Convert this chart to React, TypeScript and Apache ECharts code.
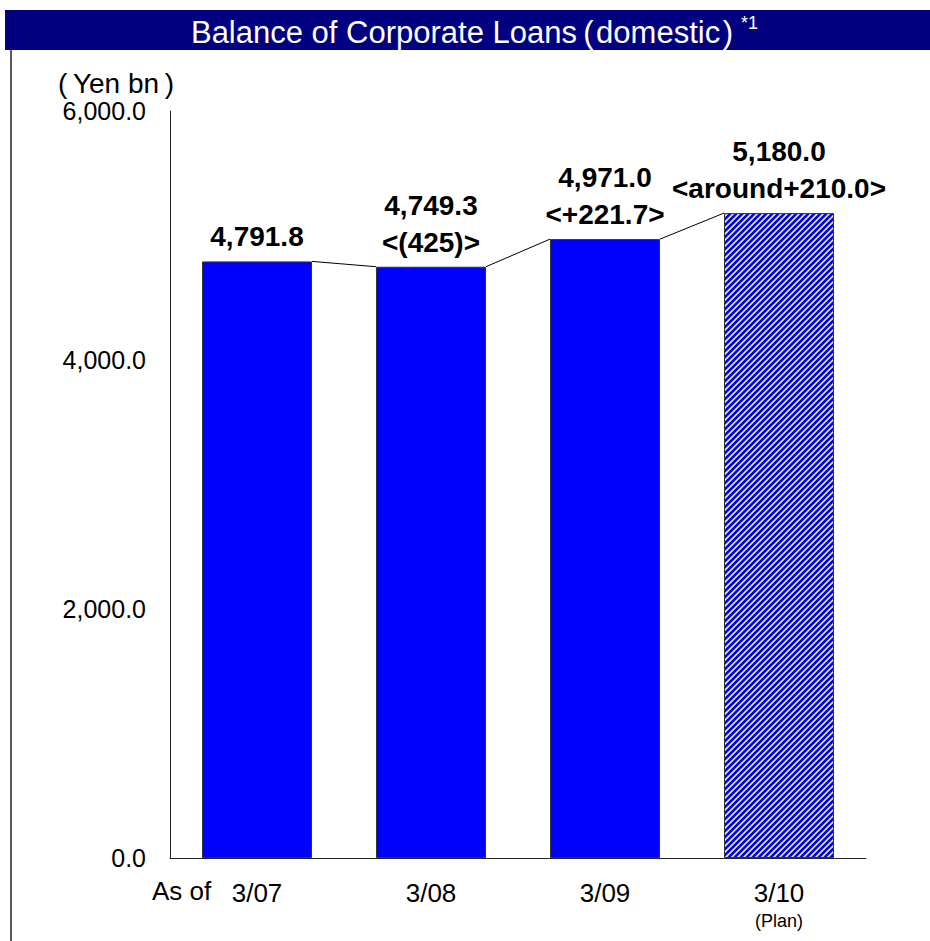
import React, { useEffect, useRef } from "react";
import * as echarts from "echarts";

const categories = ["3/07", "3/08", "3/09", "3/10"];
const balances = [4791.8, 4749.3, 4971.0, 5180.0];
const changeNotes = ["", "<(425)>", "<+221.7>", "<around+210.0>"];
const planNote = "(Plan)";
const yTicks = { min: 0, max: 6000, interval: 2000 };
const titleText = "Balance of Corporate Loans\u2009(\u200Adomestic\u200A)";
const titleNote = "*1";
const unitText = "(\u2009Yen bn\u2009)";
const asOfText = "As of";

const SANS = "'Liberation Sans', Arial, Helvetica, 'Noto Sans CJK JP', sans-serif";

function fmt(v: number): string {
  return v.toLocaleString("en-US", { minimumFractionDigits: 1, maximumFractionDigits: 1 });
}

function makeHatch(): HTMLCanvasElement {
  const c = document.createElement("canvas");
  const n = 6;
  c.width = n * 4;
  c.height = n * 4;
  const ctx = c.getContext("2d")!;
  const img = ctx.createImageData(c.width, c.height);
  for (let y = 0; y < c.height; y++) {
    for (let x = 0; x < c.width; x++) {
      const k = (x + y) % n;
      let r = 0, g = 0, b = 255;
      if (k === 3) { r = 150; g = 150; b = 255; }
      else if (k === 4) { r = 240; g = 240; b = 255; }
      else if (k === 5) { r = 150; g = 150; b = 255; }
      const idx = (y * c.width + x) * 4;
      img.data[idx] = r;
      img.data[idx + 1] = g;
      img.data[idx + 2] = b;
      img.data[idx + 3] = 255;
    }
  }
  ctx.putImageData(img, 0, 0);
  return c;
}

export default function App() {
  const ref = useRef<HTMLDivElement>(null);
  useEffect(() => {
    if (!ref.current) return;
    const chart = echarts.init(ref.current, null, { renderer: "svg" });
    const hatch = makeHatch();
    const BAR_W = 110;
    const barData = balances.map((v, i) =>
      i === categories.length - 1
        ? { value: v, itemStyle: { color: { image: hatch, repeat: "repeat" } } }
        : { value: v }
    );
    const connectorData = balances.slice(0, -1).map((v, i) => [i, v, balances[i + 1]]);

    chart.setOption({
      animation: false,
      grid: { left: 170, top: 111, right: 64, bottom: 83, containLabel: false },
      xAxis: {
        type: "category",
        data: categories,
        axisLine: { show: true, lineStyle: { color: "#222", width: 1 } },
        axisTick: { show: false },
        axisLabel: {
          margin: 20,
          color: "#000",
          fontFamily: SANS,
          fontSize: 26,
          lineHeight: 30,
          formatter: (val: string, idx: number) =>
            idx === categories.length - 1 ? `${val}\n{p|${planNote}}` : val,
          rich: {
            p: { fontSize: 18, lineHeight: 26, color: "#000", fontFamily: SANS },
          },
        },
      },
      yAxis: {
        type: "value",
        min: yTicks.min,
        max: yTicks.max,
        interval: yTicks.interval,
        splitLine: { show: false },
        axisLine: { show: true, lineStyle: { color: "#222", width: 1 } },
        axisTick: { show: false },
        axisLabel: {
          margin: 24,
          color: "#000",
          fontFamily: SANS,
          fontSize: 25,
          formatter: (v: number) => fmt(v),
        },
      },
      series: [
        {
          type: "bar",
          data: barData,
          barWidth: BAR_W,
          itemStyle: { color: "#0000FF", borderColor: "#333", borderWidth: 1 },
          label: {
            show: true,
            position: "top",
            distance: 6,
            color: "#000",
            fontFamily: SANS,
            fontWeight: "bold",
            fontSize: 28,
            lineHeight: 37,
            formatter: (p: any) => {
              const note = changeNotes[p.dataIndex];
              return note ? `${fmt(p.value)}\n${note}` : fmt(p.value);
            },
          },
          z: 2,
        },
        {
          type: "custom",
          data: connectorData,
          z: 3,
          silent: true,
          renderItem: (params: any, api: any) => {
            const i = api.value(0);
            const p1 = api.coord([i, api.value(1)]);
            const p2 = api.coord([i + 1, api.value(2)]);
            return {
              type: "line",
              shape: { x1: p1[0] + BAR_W / 2, y1: p1[1], x2: p2[0] - BAR_W / 2, y2: p2[1] },
              style: { stroke: "#000", lineWidth: 1 },
            };
          },
        },
      ],
      graphic: [
        { type: "rect", shape: { x: 5, y: 10, width: 925, height: 40 }, style: { fill: "#000080" }, z: 10 },
        {
          type: "text",
          x: 462,
          y: 32,
          z: 11,
          style: {
            text: titleText,
            fill: "#fff",
            font: `31px ${SANS}`,
            textAlign: "center",
            textVerticalAlign: "middle",
          },
        },
        {
          type: "text",
          x: 741,
          y: 23,
          z: 11,
          style: { text: titleNote, fill: "#fff", font: `18px ${SANS}`, textAlign: "left", textVerticalAlign: "middle" },
        },
        { type: "line", shape: { x1: 11, y1: 50, x2: 11, y2: 941 }, style: { stroke: "#222", lineWidth: 1.5 }, z: 10 },
        {
          type: "text",
          x: 58,
          y: 83,
          style: { text: unitText, fill: "#000", font: `28px ${SANS}`, textAlign: "left", textVerticalAlign: "middle" },
        },
        {
          type: "text",
          x: 152,
          y: 891,
          style: { text: asOfText, fill: "#000", font: `26px ${SANS}`, textAlign: "left", textVerticalAlign: "middle" },
        },
      ],
    });
    return () => chart.dispose();
  }, []);
  return (
    <div
      ref={ref}
      style={{ position: "absolute", left: 0, top: 0, width: 930, height: 941, background: "#fff" }}
    />
  );
}
